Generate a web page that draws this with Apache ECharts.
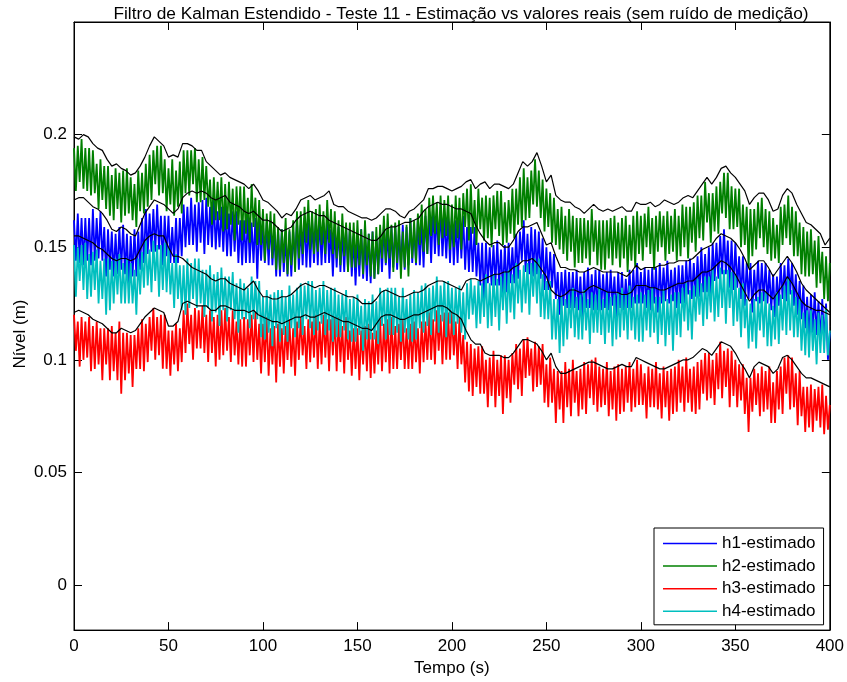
<!DOCTYPE html>
<html>
<head>
<meta charset="utf-8">
<title>Filtro de Kalman Estendido - Teste 11</title>
<script src="https://cdn.jsdelivr.net/npm/echarts@6.0.0/dist/echarts.min.js"></script>
<style>
  html, body { margin: 0; padding: 0; background: #ffffff; }
  #chart { width: 847px; height: 682px; }
</style>
</head>
<body>
<div id="chart"></div>
<script>
// Sample spacing (s) of the estimated and of the real level series
const STEP_EST = 1;
const STEP_REAL = 2.5;

const legendNames = ['h1-estimado', 'h2-estimado', 'h3-estimado', 'h4-estimado'];
const estColors = ['#0000ff', '#008000', '#ff0000', '#00bfbf'];
const yTickValues = [0, 0.05, 0.1, 0.15, 0.2];

// Estimated levels (m), one value per second, t = 0..400 s
const h1Est = [
  0.162,0.144,0.165,0.143,0.163,0.142,0.163,0.144,0.163,0.142,
  0.167,0.144,0.163,0.145,0.166,0.144,0.159,0.137,0.158,0.140,
  0.157,0.137,0.156,0.138,0.159,0.140,0.160,0.138,0.156,0.134,
  0.155,0.137,0.158,0.137,0.157,0.140,0.163,0.143,0.167,0.147,
  0.165,0.148,0.167,0.148,0.169,0.149,0.164,0.142,0.164,0.146,
  0.164,0.143,0.159,0.143,0.163,0.143,0.163,0.146,0.169,0.150,
  0.168,0.151,0.172,0.151,0.169,0.148,0.170,0.152,0.171,0.147,
  0.172,0.151,0.168,0.150,0.171,0.149,0.166,0.150,0.168,0.148,
  0.168,0.146,0.165,0.146,0.166,0.148,0.166,0.143,0.162,0.142,
  0.162,0.143,0.164,0.143,0.161,0.143,0.163,0.136,0.163,0.144,
  0.160,0.143,0.161,0.142,0.162,0.142,0.157,0.137,0.158,0.137,
  0.158,0.139,0.154,0.137,0.157,0.137,0.157,0.144,0.162,0.140,
  0.160,0.142,0.163,0.141,0.161,0.141,0.162,0.143,0.163,0.142,
  0.164,0.142,0.161,0.143,0.164,0.143,0.158,0.137,0.159,0.141,
  0.159,0.139,0.157,0.139,0.159,0.140,0.159,0.137,0.155,0.133,
  0.155,0.137,0.158,0.136,0.154,0.135,0.156,0.134,0.157,0.136,
  0.155,0.138,0.157,0.139,0.160,0.142,0.157,0.136,0.159,0.141,
  0.160,0.140,0.157,0.141,0.160,0.140,0.159,0.142,0.163,0.143,
  0.159,0.142,0.163,0.142,0.162,0.141,0.164,0.147,0.166,0.143,
  0.168,0.147,0.165,0.146,0.168,0.146,0.163,0.145,0.163,0.143,
  0.164,0.142,0.162,0.143,0.163,0.145,0.164,0.140,0.159,0.139,
  0.159,0.139,0.159,0.137,0.152,0.133,0.152,0.125,0.152,0.134,
  0.150,0.133,0.151,0.133,0.153,0.133,0.149,0.129,0.151,0.130,
  0.152,0.134,0.150,0.134,0.156,0.136,0.157,0.144,0.162,0.139,
  0.156,0.138,0.159,0.137,0.158,0.138,0.157,0.136,0.154,0.131,
  0.150,0.131,0.148,0.132,0.147,0.127,0.139,0.120,0.139,0.124,
  0.140,0.123,0.139,0.123,0.139,0.123,0.140,0.122,0.137,0.118,
  0.139,0.123,0.141,0.123,0.138,0.122,0.140,0.122,0.140,0.122,
  0.138,0.123,0.139,0.122,0.140,0.124,0.137,0.119,0.139,0.123,
  0.139,0.122,0.136,0.123,0.140,0.123,0.140,0.125,0.143,0.125,
  0.139,0.125,0.141,0.123,0.140,0.122,0.141,0.125,0.141,0.121,
  0.143,0.125,0.141,0.126,0.144,0.125,0.140,0.126,0.141,0.123,
  0.142,0.125,0.142,0.125,0.144,0.129,0.145,0.127,0.143,0.128,
  0.146,0.128,0.150,0.130,0.147,0.130,0.150,0.124,0.152,0.135,
  0.152,0.136,0.155,0.138,0.158,0.138,0.153,0.132,0.153,0.131,
  0.152,0.132,0.146,0.127,0.146,0.124,0.143,0.127,0.143,0.121,
  0.140,0.126,0.144,0.125,0.143,0.126,0.143,0.125,0.140,0.122,
  0.138,0.119,0.137,0.124,0.143,0.127,0.142,0.126,0.145,0.129,
  0.143,0.124,0.138,0.120,0.135,0.118,0.133,0.114,0.128,0.109,
  0.129,0.112,0.130,0.111,0.126,0.109,0.127,0.108,0.125,0.100,
  0.112
];

const h2Est = [
  0.194,0.175,0.195,0.179,0.198,0.176,0.194,0.175,0.194,0.173,
  0.193,0.174,0.187,0.167,0.189,0.171,0.186,0.167,0.186,0.164,
  0.182,0.162,0.185,0.167,0.183,0.161,0.184,0.164,0.185,0.165,
  0.181,0.162,0.178,0.159,0.184,0.166,0.183,0.165,0.187,0.168,
  0.191,0.171,0.193,0.178,0.195,0.173,0.195,0.174,0.189,0.166,
  0.185,0.169,0.189,0.164,0.184,0.168,0.188,0.165,0.193,0.174,
  0.193,0.173,0.193,0.178,0.194,0.170,0.189,0.170,0.190,0.171,
  0.186,0.168,0.180,0.160,0.181,0.162,0.179,0.162,0.181,0.157,
  0.178,0.158,0.179,0.160,0.176,0.153,0.177,0.160,0.177,0.153,
  0.177,0.156,0.172,0.152,0.178,0.159,0.172,0.151,0.171,0.151,
  0.167,0.144,0.165,0.149,0.166,0.145,0.165,0.140,0.159,0.140,
  0.158,0.143,0.163,0.138,0.158,0.142,0.162,0.139,0.166,0.145,
  0.166,0.147,0.168,0.152,0.171,0.149,0.166,0.147,0.167,0.148,
  0.169,0.151,0.166,0.147,0.171,0.152,0.167,0.147,0.166,0.145,
  0.162,0.142,0.165,0.146,0.161,0.139,0.161,0.141,0.161,0.141,
  0.162,0.142,0.158,0.138,0.162,0.142,0.156,0.137,0.157,0.136,
  0.159,0.138,0.160,0.145,0.164,0.143,0.165,0.145,0.160,0.139,
  0.161,0.143,0.162,0.136,0.157,0.141,0.160,0.137,0.163,0.145,
  0.162,0.143,0.165,0.151,0.169,0.148,0.167,0.147,0.172,0.155,
  0.173,0.156,0.170,0.151,0.173,0.154,0.171,0.155,0.173,0.149,
  0.169,0.150,0.173,0.154,0.172,0.149,0.174,0.159,0.176,0.153,
  0.178,0.156,0.171,0.151,0.176,0.158,0.172,0.153,0.173,0.154,
  0.172,0.150,0.173,0.158,0.175,0.155,0.175,0.151,0.170,0.152,
  0.171,0.156,0.176,0.154,0.176,0.160,0.181,0.159,0.185,0.162,
  0.181,0.163,0.184,0.169,0.189,0.168,0.184,0.163,0.180,0.157,
  0.176,0.159,0.174,0.152,0.172,0.151,0.167,0.149,0.168,0.147,
  0.164,0.144,0.167,0.148,0.164,0.141,0.163,0.143,0.163,0.143,
  0.163,0.145,0.162,0.142,0.167,0.148,0.162,0.142,0.162,0.140,
  0.162,0.140,0.162,0.145,0.163,0.142,0.164,0.145,0.161,0.141,
  0.163,0.145,0.164,0.139,0.160,0.144,0.164,0.141,0.166,0.147,
  0.164,0.144,0.165,0.150,0.168,0.147,0.163,0.140,0.164,0.148,
  0.166,0.150,0.164,0.144,0.166,0.147,0.164,0.148,0.167,0.144,
  0.164,0.146,0.169,0.150,0.168,0.145,0.168,0.152,0.170,0.148,
  0.173,0.154,0.173,0.153,0.179,0.161,0.174,0.152,0.174,0.157,
  0.177,0.156,0.179,0.165,0.183,0.163,0.183,0.158,0.177,0.158,
  0.176,0.159,0.176,0.150,0.169,0.151,0.168,0.141,0.167,0.146,
  0.167,0.149,0.170,0.154,0.172,0.150,0.167,0.147,0.166,0.144,
  0.163,0.145,0.160,0.143,0.168,0.151,0.169,0.154,0.173,0.151,
  0.168,0.146,0.166,0.146,0.161,0.138,0.159,0.137,0.157,0.137,
  0.158,0.138,0.153,0.132,0.155,0.134,0.148,0.127,0.146,0.126,
  0.143
];

const h3Est = [
  0.120,0.104,0.117,0.097,0.119,0.100,0.117,0.101,0.119,0.095,
  0.115,0.096,0.117,0.098,0.114,0.091,0.114,0.098,0.114,0.091,
  0.115,0.095,0.112,0.091,0.117,0.085,0.112,0.091,0.112,0.094,
  0.111,0.088,0.111,0.096,0.114,0.096,0.118,0.095,0.116,0.099,
  0.119,0.104,0.123,0.100,0.119,0.102,0.120,0.096,0.120,0.096,
  0.113,0.093,0.113,0.098,0.116,0.095,0.114,0.099,0.122,0.103,
  0.125,0.107,0.120,0.100,0.123,0.105,0.122,0.105,0.124,0.103,
  0.120,0.099,0.122,0.103,0.119,0.097,0.120,0.100,0.122,0.102,
  0.123,0.104,0.119,0.099,0.122,0.102,0.117,0.098,0.118,0.097,
  0.119,0.097,0.118,0.102,0.120,0.099,0.121,0.100,0.116,0.094,
  0.116,0.099,0.119,0.093,0.114,0.098,0.115,0.090,0.116,0.097,
  0.114,0.094,0.115,0.100,0.118,0.097,0.114,0.093,0.117,0.100,
  0.119,0.102,0.115,0.096,0.118,0.099,0.117,0.101,0.120,0.096,
  0.117,0.098,0.120,0.101,0.118,0.095,0.118,0.102,0.119,0.095,
  0.119,0.099,0.115,0.094,0.119,0.100,0.113,0.093,0.114,0.096,
  0.114,0.091,0.113,0.098,0.115,0.095,0.116,0.092,0.112,0.094,
  0.113,0.098,0.118,0.095,0.116,0.099,0.118,0.094,0.119,0.096,
  0.115,0.096,0.116,0.100,0.118,0.096,0.114,0.096,0.116,0.096,
  0.117,0.099,0.114,0.094,0.117,0.099,0.117,0.100,0.121,0.100,
  0.118,0.098,0.122,0.104,0.120,0.098,0.121,0.100,0.121,0.100,
  0.121,0.102,0.117,0.096,0.119,0.098,0.111,0.090,0.108,0.086,
  0.107,0.084,0.105,0.088,0.106,0.085,0.106,0.085,0.100,0.079,
  0.101,0.084,0.104,0.079,0.100,0.084,0.102,0.076,0.102,0.083,
  0.100,0.081,0.103,0.089,0.107,0.087,0.105,0.084,0.109,0.092,
  0.110,0.093,0.105,0.086,0.108,0.088,0.106,0.089,0.107,0.081,
  0.098,0.079,0.101,0.081,0.096,0.072,0.095,0.078,0.095,0.072,
  0.099,0.079,0.096,0.075,0.100,0.081,0.095,0.075,0.096,0.078,
  0.099,0.076,0.098,0.083,0.100,0.080,0.101,0.077,0.097,0.079,
  0.096,0.080,0.099,0.075,0.095,0.078,0.097,0.073,0.098,0.076,
  0.096,0.077,0.097,0.081,0.099,0.077,0.096,0.079,0.100,0.080,
  0.098,0.080,0.094,0.074,0.097,0.079,0.096,0.079,0.099,0.078,
  0.094,0.074,0.097,0.079,0.095,0.073,0.096,0.076,0.097,0.077,
  0.100,0.081,0.097,0.077,0.101,0.081,0.096,0.077,0.097,0.076,
  0.099,0.078,0.100,0.085,0.103,0.082,0.103,0.083,0.100,0.080,
  0.103,0.087,0.108,0.083,0.104,0.088,0.105,0.079,0.104,0.084,
  0.100,0.079,0.098,0.082,0.098,0.076,0.092,0.068,0.092,0.077,
  0.096,0.080,0.094,0.075,0.097,0.077,0.095,0.078,0.097,0.072,
  0.090,0.072,0.095,0.078,0.097,0.076,0.101,0.085,0.102,0.078,
  0.101,0.079,0.094,0.071,0.095,0.075,0.088,0.068,0.088,0.070,
  0.089,0.068,0.087,0.073,0.088,0.070,0.089,0.067,0.084,0.069,
  0.080
];

const h4Est = [
  0.151,0.128,0.150,0.135,0.151,0.131,0.152,0.127,0.147,0.128,
  0.148,0.131,0.149,0.125,0.144,0.127,0.145,0.120,0.145,0.122,
  0.144,0.125,0.145,0.129,0.147,0.125,0.143,0.125,0.145,0.125,
  0.143,0.125,0.140,0.120,0.145,0.129,0.148,0.132,0.153,0.133,
  0.149,0.130,0.153,0.135,0.151,0.128,0.151,0.131,0.152,0.130,
  0.150,0.129,0.143,0.123,0.147,0.127,0.142,0.122,0.142,0.120,
  0.145,0.123,0.143,0.127,0.145,0.123,0.145,0.125,0.140,0.119,
  0.140,0.123,0.142,0.117,0.138,0.121,0.139,0.115,0.141,0.122,
  0.137,0.117,0.137,0.122,0.139,0.118,0.134,0.112,0.136,0.118,
  0.134,0.118,0.132,0.114,0.137,0.118,0.135,0.118,0.135,0.110,
  0.128,0.109,0.131,0.112,0.129,0.106,0.130,0.114,0.131,0.108,
  0.131,0.111,0.128,0.108,0.133,0.114,0.129,0.110,0.132,0.114,
  0.134,0.111,0.133,0.118,0.135,0.114,0.135,0.111,0.131,0.113,
  0.132,0.116,0.135,0.111,0.131,0.113,0.132,0.108,0.132,0.110,
  0.129,0.110,0.129,0.113,0.131,0.109,0.127,0.108,0.128,0.108,
  0.129,0.111,0.124,0.104,0.127,0.109,0.126,0.109,0.129,0.109,
  0.126,0.107,0.132,0.115,0.131,0.109,0.132,0.111,0.132,0.111,
  0.132,0.112,0.128,0.108,0.132,0.112,0.127,0.109,0.129,0.108,
  0.131,0.109,0.130,0.114,0.133,0.112,0.134,0.115,0.132,0.111,
  0.133,0.117,0.137,0.112,0.133,0.117,0.135,0.110,0.135,0.116,
  0.132,0.111,0.132,0.116,0.133,0.112,0.130,0.109,0.134,0.118,
  0.136,0.120,0.133,0.114,0.135,0.116,0.134,0.119,0.138,0.114,
  0.134,0.115,0.138,0.119,0.136,0.113,0.137,0.122,0.139,0.116,
  0.140,0.121,0.138,0.118,0.143,0.125,0.140,0.121,0.142,0.125,
  0.143,0.120,0.143,0.128,0.145,0.125,0.145,0.119,0.138,0.118,
  0.135,0.118,0.135,0.109,0.127,0.109,0.127,0.103,0.128,0.106,
  0.127,0.109,0.129,0.114,0.132,0.110,0.128,0.109,0.129,0.109,
  0.131,0.113,0.127,0.107,0.130,0.112,0.129,0.112,0.132,0.111,
  0.127,0.107,0.130,0.112,0.128,0.106,0.129,0.109,0.130,0.110,
  0.132,0.113,0.129,0.109,0.133,0.113,0.128,0.109,0.129,0.108,
  0.130,0.108,0.129,0.113,0.131,0.110,0.132,0.112,0.128,0.107,
  0.128,0.111,0.131,0.106,0.127,0.111,0.129,0.104,0.130,0.111,
  0.130,0.110,0.132,0.117,0.134,0.113,0.131,0.109,0.133,0.117,
  0.136,0.120,0.134,0.115,0.137,0.118,0.137,0.121,0.140,0.117,
  0.137,0.119,0.141,0.123,0.140,0.116,0.140,0.123,0.139,0.115,
  0.138,0.117,0.132,0.110,0.134,0.114,0.127,0.105,0.125,0.108,
  0.127,0.105,0.128,0.113,0.130,0.110,0.130,0.106,0.125,0.106,
  0.124,0.109,0.130,0.107,0.129,0.113,0.133,0.111,0.136,0.113,
  0.131,0.110,0.128,0.110,0.127,0.104,0.121,0.102,0.122,0.101,
  0.122,0.104,0.118,0.098,0.121,0.103,0.120,0.103,0.123,0.102,
  0.113
];

// Real levels (m), one value every 2.5 s, t = 0..400 s
const h1Real = [
  0.171,0.172,0.172,0.170,0.168,0.167,0.165,0.162,0.158,0.157,
  0.159,0.158,0.156,0.155,0.160,0.165,0.168,0.171,0.170,0.169,
  0.167,0.165,0.167,0.172,0.174,0.175,0.174,0.175,0.174,0.172,
  0.171,0.172,0.173,0.170,0.169,0.168,0.166,0.165,0.166,0.164,
  0.162,0.162,0.161,0.159,0.157,0.158,0.159,0.162,0.164,0.165,
  0.166,0.165,0.164,0.164,0.162,0.161,0.160,0.159,0.158,0.157,
  0.156,0.155,0.154,0.153,0.153,0.155,0.158,0.159,0.159,0.160,
  0.161,0.161,0.162,0.163,0.166,0.168,0.169,0.170,0.169,0.169,
  0.168,0.167,0.167,0.166,0.165,0.160,0.156,0.153,0.151,0.152,
  0.152,0.150,0.150,0.153,0.157,0.159,0.159,0.160,0.161,0.156,
  0.151,0.152,0.146,0.141,0.141,0.140,0.140,0.139,0.139,0.140,
  0.141,0.140,0.139,0.139,0.139,0.139,0.138,0.137,0.139,0.142,
  0.140,0.141,0.141,0.141,0.142,0.142,0.143,0.143,0.144,0.144,
  0.144,0.145,0.147,0.149,0.150,0.151,0.154,0.156,0.155,0.154,
  0.152,0.149,0.145,0.140,0.142,0.144,0.144,0.141,0.137,0.140,
  0.143,0.146,0.143,0.139,0.134,0.131,0.129,0.127,0.125,0.123,
  0.121
];

const h2Real = [
  0.199,0.198,0.200,0.199,0.196,0.194,0.193,0.189,0.186,0.187,
  0.185,0.184,0.182,0.183,0.186,0.190,0.195,0.199,0.197,0.195,
  0.190,0.191,0.190,0.196,0.196,0.195,0.193,0.193,0.188,0.186,
  0.184,0.182,0.183,0.181,0.180,0.179,0.178,0.176,0.178,0.175,
  0.171,0.170,0.168,0.166,0.163,0.165,0.164,0.167,0.171,0.172,
  0.173,0.171,0.172,0.173,0.175,0.169,0.168,0.168,0.166,0.165,
  0.164,0.163,0.163,0.162,0.163,0.165,0.167,0.167,0.166,0.164,
  0.163,0.166,0.167,0.169,0.171,0.176,0.176,0.177,0.177,0.176,
  0.175,0.176,0.177,0.179,0.180,0.176,0.178,0.179,0.176,0.178,
  0.178,0.177,0.176,0.178,0.183,0.188,0.186,0.188,0.192,0.186,
  0.179,0.182,0.173,0.171,0.170,0.170,0.168,0.167,0.165,0.167,
  0.169,0.167,0.166,0.167,0.166,0.167,0.168,0.166,0.166,0.170,
  0.169,0.169,0.170,0.168,0.169,0.171,0.170,0.169,0.170,0.172,
  0.173,0.172,0.175,0.178,0.181,0.178,0.181,0.185,0.186,0.183,
  0.181,0.178,0.175,0.169,0.172,0.174,0.174,0.171,0.166,0.167,
  0.173,0.176,0.174,0.169,0.165,0.161,0.160,0.158,0.156,0.151,
  0.154
];

const h3Real = [
  0.121,0.122,0.121,0.120,0.118,0.117,0.116,0.114,0.112,0.112,
  0.114,0.113,0.112,0.113,0.116,0.119,0.121,0.123,0.122,0.121,
  0.115,0.115,0.117,0.125,0.126,0.125,0.124,0.124,0.124,0.122,
  0.122,0.124,0.124,0.123,0.122,0.122,0.122,0.121,0.122,0.120,
  0.119,0.118,0.117,0.117,0.116,0.117,0.118,0.119,0.119,0.120,
  0.119,0.119,0.120,0.121,0.120,0.119,0.118,0.117,0.117,0.116,
  0.115,0.114,0.114,0.113,0.116,0.119,0.120,0.120,0.119,0.118,
  0.118,0.119,0.120,0.120,0.121,0.122,0.123,0.124,0.124,0.123,
  0.121,0.120,0.118,0.113,0.109,0.107,0.107,0.103,0.102,0.102,
  0.102,0.101,0.101,0.103,0.106,0.109,0.109,0.108,0.107,0.104,
  0.100,0.103,0.097,0.094,0.094,0.095,0.096,0.097,0.098,0.099,
  0.099,0.098,0.097,0.096,0.096,0.097,0.098,0.097,0.097,0.101,
  0.100,0.099,0.098,0.097,0.096,0.096,0.097,0.098,0.099,0.100,
  0.100,0.101,0.103,0.105,0.104,0.102,0.105,0.108,0.107,0.106,
  0.103,0.099,0.096,0.092,0.097,0.099,0.098,0.097,0.094,0.096,
  0.101,0.102,0.100,0.097,0.094,0.092,0.092,0.091,0.090,0.089,
  0.088
];

const h4Real = [
  0.155,0.155,0.154,0.153,0.152,0.150,0.149,0.147,0.145,0.144,
  0.145,0.145,0.144,0.145,0.149,0.153,0.155,0.156,0.155,0.155,
  0.150,0.146,0.146,0.145,0.143,0.141,0.140,0.139,0.138,0.136,
  0.135,0.136,0.136,0.134,0.133,0.132,0.131,0.133,0.135,0.131,
  0.128,0.128,0.127,0.127,0.128,0.128,0.129,0.131,0.133,0.134,
  0.133,0.132,0.133,0.133,0.132,0.131,0.130,0.129,0.128,0.128,
  0.127,0.125,0.125,0.125,0.127,0.130,0.131,0.130,0.129,0.128,
  0.128,0.129,0.130,0.130,0.131,0.133,0.134,0.135,0.135,0.134,
  0.133,0.132,0.131,0.135,0.136,0.136,0.135,0.136,0.137,0.138,
  0.138,0.139,0.139,0.141,0.142,0.144,0.144,0.145,0.143,0.140,
  0.137,0.131,0.129,0.128,0.129,0.131,0.131,0.130,0.130,0.132,
  0.133,0.132,0.131,0.130,0.130,0.130,0.129,0.129,0.130,0.133,
  0.133,0.133,0.132,0.132,0.131,0.131,0.132,0.133,0.134,0.134,
  0.135,0.135,0.137,0.139,0.139,0.140,0.142,0.144,0.143,0.141,
  0.138,0.134,0.130,0.126,0.129,0.131,0.131,0.129,0.127,0.130,
  0.133,0.137,0.134,0.130,0.126,0.124,0.123,0.122,0.122,0.121,
  0.120
];

// ---- chart ----
const FONT = '"Liberation Sans", Arial, Helvetica, sans-serif';
const toPairs = (values, step) => values.map((v, i) => [i * step, v]);

function estSeries(name, values, color) {
  return {
    name: name,
    type: 'line',
    data: toPairs(values, STEP_EST),
    symbol: 'none',
    showSymbol: false,
    lineStyle: { color: color, width: 1.8 },
    itemStyle: { color: color },
    emphasis: { disabled: true },
    silent: true,
    z: 2
  };
}

function realSeries(name, values) {
  return {
    name: name,
    type: 'line',
    data: toPairs(values, STEP_REAL),
    symbol: 'none',
    showSymbol: false,
    lineStyle: { color: '#000000', width: 1.2 },
    itemStyle: { color: '#000000' },
    emphasis: { disabled: true },
    silent: true,
    z: 3
  };
}

const tickStyle = { inside: true, length: 8, lineStyle: { color: '#000', width: 1 } };

const option = {
  animation: false,
  backgroundColor: '#ffffff',
  textStyle: { fontFamily: FONT },
  grid: {
    left: 74, right: 16, top: 22, bottom: 50,
    show: true, borderColor: '#000', borderWidth: 1, backgroundColor: '#ffffff'
  },
  graphic: [
    {
      type: 'text', x: 461, y: 14,
      style: {
        text: 'Filtro de Kalman Estendido - Teste 11 - Estimação vs valores reais (sem ruído de medição)',
        font: '17.3px ' + FONT, fill: '#000', align: 'center', verticalAlign: 'middle'
      }
    },
    {
      type: 'text', x: 20, y: 334, rotation: Math.PI / 2,
      style: {
        text: 'Nível (m)',
        font: '17px ' + FONT, fill: '#000', align: 'center', verticalAlign: 'middle'
      }
    }
  ],
  legend: {
    data: legendNames.map((n, i) => ({ name: n, itemStyle: { color: estColors[i] } })),
    orient: 'vertical',
    left: 654, top: 528,
    padding: [7, 8, 5, 9],
    itemGap: 5.6,
    itemWidth: 54,
    itemHeight: 1.5,
    icon: 'rect',
    selectedMode: false,
    backgroundColor: '#ffffff',
    borderColor: '#000000',
    borderWidth: 1,
    textStyle: { fontFamily: FONT, fontSize: 17, color: '#000', lineHeight: 17 }
  },
  xAxis: [
    {
      type: 'value', min: 0, max: 400, interval: 50,
      name: 'Tempo (s)', nameLocation: 'middle', nameGap: 24,
      nameTextStyle: { fontFamily: FONT, fontSize: 17, color: '#000' },
      axisLine: { show: true, onZero: false, lineStyle: { color: '#000' } },
      axisTick: tickStyle,
      axisLabel: { fontFamily: FONT, fontSize: 17, color: '#000', margin: 8 },
      splitLine: { show: false }
    },
    {
      type: 'value', min: 0, max: 400, interval: 50, position: 'top',
      axisLine: { show: true, onZero: false, lineStyle: { color: '#000' } },
      axisTick: tickStyle,
      axisLabel: { show: false },
      splitLine: { show: false }
    }
  ],
  yAxis: [
    {
      type: 'value', min: -0.02, max: 0.25,
      axisLine: { show: true, onZero: false, lineStyle: { color: '#000' } },
      axisTick: Object.assign({ customValues: yTickValues }, tickStyle),
      axisLabel: {
        customValues: yTickValues,
        fontFamily: FONT, fontSize: 17, color: '#000', margin: 7,
        formatter: v => String(+v.toFixed(2))
      },
      splitLine: { show: false }
    },
    {
      type: 'value', min: -0.02, max: 0.25, position: 'right',
      axisLine: { show: true, onZero: false, lineStyle: { color: '#000' } },
      axisTick: Object.assign({ customValues: yTickValues }, tickStyle),
      axisLabel: { show: false },
      splitLine: { show: false }
    }
  ],
  series: [
    estSeries(legendNames[0], h1Est, estColors[0]),
    estSeries(legendNames[1], h2Est, estColors[1]),
    estSeries(legendNames[2], h3Est, estColors[2]),
    estSeries(legendNames[3], h4Est, estColors[3]),
    realSeries('h1-real', h1Real),
    realSeries('h2-real', h2Real),
    realSeries('h3-real', h3Real),
    realSeries('h4-real', h4Real)
  ]
};

const chart = echarts.init(document.getElementById('chart'), null, { renderer: 'canvas' });
chart.setOption(option);
</script>
</body>
</html>
